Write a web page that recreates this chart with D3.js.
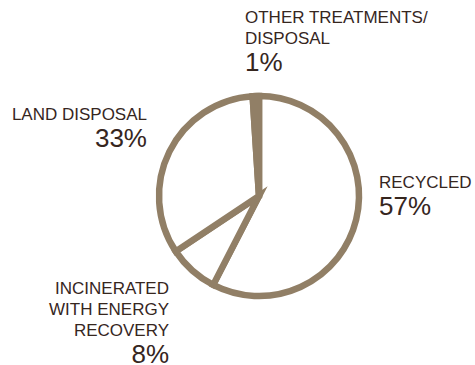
<!DOCTYPE html>
<html>
<head>
<meta charset="utf-8">
<script src="https://cdn.jsdelivr.net/npm/d3@7"></script>
<style>
  html, body { margin: 0; padding: 0; background: #fff; }
  svg { display: block; }
  text { font-family: "Liberation Sans", Arial, Helvetica, sans-serif; fill: #36261e; }
</style>
</head>
<body>
<svg id="chart" width="475" height="365"></svg>
<script>
// Waste treatment shares (percent)
const categories = ["RECYCLED", "INCINERATED WITH ENERGY RECOVERY", "LAND DISPOSAL", "OTHER TREATMENTS/ DISPOSAL"];
const values = [57, 8, 33, 1];
const labelLines = [
  ["RECYCLED"],
  ["INCINERATED", "WITH ENERGY", "RECOVERY"],
  ["LAND DISPOSAL"],
  ["OTHER TREATMENTS/", "DISPOSAL"]
];

const svg = d3.select("#chart");
const cx = 259, cy = 196, radius = 100;
const strokeColor = "#917f66";

const pie = d3.pie().sort(null).value(d => d)(values);
const arc = d3.arc().innerRadius(0).outerRadius(radius);

const g = svg.append("g").attr("transform", `translate(${cx},${cy})`);
g.selectAll("path")
  .data(pie)
  .join("path")
  .attr("d", arc)
  .attr("fill", "#fff")
  .attr("stroke", strokeColor)
  .attr("stroke-width", 6.5)
  .attr("stroke-linejoin", "miter");

// Label layout: anchor point, alignment, line spacing
const labelPos = [
  { x: 379, y: 188, anchor: "start" },
  { x: 169, y: 294, anchor: "end" },
  { x: 147, y: 120, anchor: "end" },
  { x: 245, y: 23, anchor: "start" }
];
const lineH = 21.2;

labelLines.forEach((lines, i) => {
  const p = labelPos[i];
  const t = svg.append("g");
  lines.forEach((ln, j) => {
    t.append("text")
      .attr("x", p.x)
      .attr("y", p.y + j * lineH)
      .attr("text-anchor", p.anchor)
      .attr("font-size", 17)
      .text(ln);
  });
  t.append("text")
    .attr("x", p.x)
    .attr("y", p.y + (lines.length - 1) * lineH + 26.5)
    .attr("text-anchor", p.anchor)
    .attr("font-size", 26)
    .text(values[i] + "%");
});
</script>
</body>
</html>
